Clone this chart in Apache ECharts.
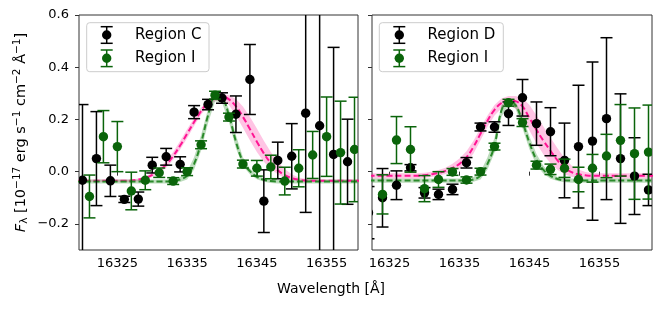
<!DOCTYPE html>
<html>
<head>
<meta charset="utf-8">
<script src="https://cdn.jsdelivr.net/npm/echarts@6/dist/echarts.min.js"></script>
<style>html,body{margin:0;padding:0;background:#fff}#c{width:662px;height:312px}</style>
</head>
<body>
<div id="c"></div>
<script>
// ---- data ----
const lamC = [16320,16322,16324,16326,16328,16330,16332,16334,16336,16338,16340,16342,16344,16346,16348,16350,16352,16354,16356,16358];
const fluxC = [-0.033,0.05,-0.035,-0.106,-0.105,0.025,0.057,0.028,0.228,0.257,0.282,0.22,0.353,-0.113,0.043,0.059,0.224,0.176,0.066,0.038];
const errC = [0.29,0.18,0.06,0.012,0.027,0.03,0.032,0.029,0.025,0.02,0.02,0.07,0.134,0.12,0.07,0.125,0.38,0.6,0.41,0.163];

const lamIL = [16321,16323,16325,16327,16329,16331,16333,16335,16337,16339,16341,16343,16345,16347,16349,16351,16353,16355,16357,16359];
const fluxIL = [-0.095,0.134,0.096,-0.074,-0.033,-0.004,-0.036,0.0,0.103,0.293,0.209,0.029,0.013,0.018,-0.036,0.013,0.064,0.134,0.073,0.085];
const errIL = [0.082,0.1,0.096,0.072,0.036,0.018,0.013,0.015,0.015,0.015,0.015,0.015,0.03,0.045,0.053,0.071,0.09,0.152,0.197,0.2];

const lamD = [16322,16324,16326,16328,16330,16332,16334,16336,16338,16340,16342,16344,16346,16348,16350,16352,16354,16356,16358,16360,16362];
const fluxD = [-0.157,-0.1,-0.052,0.015,-0.081,-0.087,-0.068,0.034,0.171,0.171,0.222,0.283,0.184,0.153,0.043,0.096,0.117,0.203,0.05,-0.017,-0.07];
const errD = [0.1,0.112,0.055,0.012,0.02,0.02,0.02,0.02,0.015,0.02,0.045,0.07,0.083,0.092,0.143,0.235,0.303,0.31,0.248,0.147,0.06];

const lamIR = [16324,16326,16328,16330,16332,16334,16336,16338,16340,16342,16344,16346,16348,16350,16352,16354,16356,16358,16360,16362];
const fluxIR = [-0.087,0.121,0.085,-0.065,-0.03,-0.001,-0.032,0.0,0.096,0.264,0.188,0.025,0.009,0.013,-0.03,0.013,0.06,0.12,0.069,0.075];
const errIR = [0.075,0.09,0.087,0.05,0.03,0.013,0.012,0.013,0.013,0.013,0.015,0.015,0.02,0.035,0.047,0.053,0.083,0.137,0.175,0.18];

// model curves, left panel grid
const gridL = [16319,16320,16321,16322,16323,16324,16325,16326,16327,16328,16329,16330,16331,16332,16333,16334,16335,16336,16337,16338,16339,16340,16341,16342,16343,16344,16345,16346,16347,16348,16349,16350,16351,16352,16353,16354,16355,16356,16357,16358,16359,16360];
const modelC = [-0.035,-0.035,-0.035,-0.035,-0.035,-0.035,-0.035,-0.035,-0.034,-0.03,-0.024,-0.012,0.005,0.027,0.06,0.1,0.145,0.19,0.232,0.265,0.283,0.287,0.277,0.25,0.21,0.163,0.115,0.07,0.033,0.005,-0.013,-0.025,-0.031,-0.034,-0.035,-0.035,-0.035,-0.035,-0.035,-0.035,-0.035,-0.035];
const modelCHi = [-0.03,-0.03,-0.03,-0.03,-0.03,-0.03,-0.03,-0.03,-0.03,-0.026,-0.018,-0.005,0.015,0.04,0.075,0.117,0.162,0.205,0.245,0.275,0.293,0.297,0.293,0.278,0.25,0.21,0.165,0.118,0.075,0.038,0.01,-0.01,-0.022,-0.028,-0.03,-0.03,-0.03,-0.03,-0.03,-0.03,-0.03,-0.03];
const modelCLo = [-0.04,-0.04,-0.04,-0.04,-0.04,-0.04,-0.04,-0.04,-0.04,-0.037,-0.031,-0.02,-0.005,0.015,0.046,0.085,0.128,0.175,0.218,0.252,0.27,0.272,0.255,0.215,0.168,0.12,0.075,0.038,0.01,-0.01,-0.024,-0.032,-0.036,-0.038,-0.04,-0.04,-0.04,-0.04,-0.04,-0.04,-0.04,-0.04];
const modelIL = [-0.038,-0.038,-0.038,-0.038,-0.038,-0.038,-0.038,-0.038,-0.038,-0.038,-0.038,-0.038,-0.038,-0.038,-0.036,-0.03,-0.015,0.03,0.11,0.215,0.285,0.28,0.215,0.115,0.038,0.002,-0.02,-0.031,-0.036,-0.038,-0.038,-0.038,-0.038,-0.038,-0.038,-0.038,-0.038,-0.038,-0.038,-0.038,-0.038,-0.038];
const modelILHi = [-0.03,-0.03,-0.03,-0.03,-0.03,-0.03,-0.03,-0.03,-0.03,-0.03,-0.03,-0.03,-0.03,-0.03,-0.028,-0.02,0.0,0.055,0.14,0.24,0.297,0.295,0.24,0.14,0.055,0.012,-0.012,-0.024,-0.029,-0.03,-0.03,-0.03,-0.03,-0.03,-0.03,-0.03,-0.03,-0.03,-0.03,-0.03,-0.03,-0.03];
const modelILLo = [-0.045,-0.045,-0.045,-0.045,-0.045,-0.045,-0.045,-0.045,-0.045,-0.045,-0.045,-0.045,-0.045,-0.045,-0.044,-0.04,-0.03,0.008,0.08,0.185,0.27,0.265,0.19,0.09,0.022,-0.01,-0.029,-0.039,-0.043,-0.045,-0.045,-0.045,-0.045,-0.045,-0.045,-0.045,-0.045,-0.045,-0.045,-0.045,-0.045,-0.045];

// model curves, right panel grid
const gridR = [16322,16323,16324,16325,16326,16327,16328,16329,16330,16331,16332,16333,16334,16335,16336,16337,16338,16339,16340,16341,16342,16343,16344,16345,16346,16347,16348,16349,16350,16351,16352,16353,16354,16355,16356,16357,16358,16359,16360,16361,16362,16363];
const modelD = [-0.016,-0.016,-0.016,-0.016,-0.016,-0.016,-0.016,-0.016,-0.014,-0.01,-0.005,0.003,0.014,0.03,0.055,0.095,0.145,0.195,0.237,0.263,0.273,0.27,0.25,0.205,0.16,0.118,0.08,0.043,0.015,-0.002,-0.01,-0.014,-0.016,-0.016,-0.016,-0.016,-0.016,-0.016,-0.016,-0.016,-0.016,-0.016];
const modelDHi = [-0.006,-0.006,-0.006,-0.006,-0.006,-0.006,-0.006,-0.006,-0.004,0.0,0.006,0.015,0.03,0.05,0.078,0.118,0.167,0.215,0.255,0.28,0.29,0.29,0.282,0.255,0.215,0.172,0.13,0.09,0.052,0.024,0.008,-0.001,-0.006,-0.006,-0.006,-0.006,-0.006,-0.006,-0.006,-0.006,-0.006,-0.006];
const modelDLo = [-0.026,-0.026,-0.026,-0.026,-0.026,-0.026,-0.026,-0.026,-0.024,-0.02,-0.016,-0.009,0.0,0.012,0.034,0.07,0.12,0.172,0.215,0.243,0.253,0.243,0.212,0.158,0.108,0.066,0.032,0.007,-0.01,-0.019,-0.024,-0.026,-0.026,-0.026,-0.026,-0.026,-0.026,-0.026,-0.026,-0.026,-0.026,-0.026];
const modelIR = [-0.034,-0.034,-0.034,-0.034,-0.034,-0.034,-0.034,-0.034,-0.034,-0.034,-0.034,-0.034,-0.034,-0.034,-0.033,-0.03,-0.015,0.03,0.1,0.235,0.268,0.255,0.19,0.11,0.045,0.007,-0.016,-0.028,-0.033,-0.034,-0.034,-0.034,-0.034,-0.034,-0.034,-0.034,-0.034,-0.034,-0.034,-0.034,-0.034,-0.034];
const modelIRHi = [-0.026,-0.026,-0.026,-0.026,-0.026,-0.026,-0.026,-0.026,-0.026,-0.026,-0.026,-0.026,-0.026,-0.026,-0.025,-0.02,0.0,0.055,0.13,0.255,0.278,0.268,0.215,0.135,0.068,0.022,-0.006,-0.02,-0.025,-0.026,-0.026,-0.026,-0.026,-0.026,-0.026,-0.026,-0.026,-0.026,-0.026,-0.026,-0.026,-0.026];
const modelIRLo = [-0.042,-0.042,-0.042,-0.042,-0.042,-0.042,-0.042,-0.042,-0.042,-0.042,-0.042,-0.042,-0.042,-0.042,-0.041,-0.039,-0.03,0.008,0.072,0.21,0.255,0.242,0.165,0.085,0.025,-0.008,-0.027,-0.036,-0.041,-0.042,-0.042,-0.042,-0.042,-0.042,-0.042,-0.042,-0.042,-0.042,-0.042,-0.042,-0.042,-0.042];

const xTicks = [16325,16335,16345,16355];
const yTicks = [-0.2,0.0,0.2,0.4,0.6];
const legendLeftNames = ['Region C', 'Region I'];
const legendRightNames = ['Region D', 'Region I'];

// ---- styling ----
const BLACK = '#000000';
const GREEN = '#0a640a';
const PINK = '#ff1493';
const PINK_BAND = 'rgba(255,20,147,0.25)';
const GREEN_LINE = '#2a8a2a';
const GREEN_BAND = 'rgba(34,139,34,0.30)';
const FONT = 'DejaVu Sans';

function zip2(a, b) { return a.map((v, i) => [v, b[i]]); }
function zip3(a, b, c) { return a.map((v, i) => [v, b[i], c[i]]); }

function errRender(color) {
  return function (params, api) {
    const x = api.value(0), y = api.value(1), e = api.value(2);
    const c = api.coord([x, y]);
    const t = api.coord([x, y + e]);
    const b = api.coord([x, y - e]);
    const w = 6;
    const st = { stroke: color, lineWidth: 1.5 };
    return {
      type: 'group',
      children: [
        { type: 'line', shape: { x1: c[0], y1: t[1], x2: c[0], y2: b[1] }, style: st },
        { type: 'line', shape: { x1: c[0] - w, y1: t[1], x2: c[0] + w, y2: t[1] }, style: st },
        { type: 'line', shape: { x1: c[0] - w, y1: b[1], x2: c[0] + w, y2: b[1] }, style: st },
        { type: 'circle', shape: { cx: c[0], cy: c[1], r: 4.7 }, style: { fill: color } }
      ]
    };
  };
}

function bandSeries(idx, lam, hi, lo, color) {
  return {
    type: 'custom', xAxisIndex: idx, yAxisIndex: idx, clip: true, silent: true, z: 1,
    data: [[lam[0], lo[0]]],
    encode: { x: 0, y: 1 },
    renderItem: function (params, api) {
      const pts = [];
      for (let i = 0; i < lam.length; i++) pts.push(api.coord([lam[i], hi[i]]));
      for (let i = lam.length - 1; i >= 0; i--) pts.push(api.coord([lam[i], lo[i]]));
      return { type: 'polygon', shape: { points: pts }, style: { fill: color } };
    }
  };
}

function lineSeries(idx, lam, vals, color) {
  return {
    type: 'line', xAxisIndex: idx, yAxisIndex: idx, data: zip2(lam, vals),
    showSymbol: false, smooth: 0.4, silent: true, z: 2, clip: true,
    lineStyle: { color: color, width: 2, type: [6, 3] }
  };
}

function errSeries(idx, name, lam, f, e, color, z) {
  return {
    type: 'custom', name: name, xAxisIndex: idx, yAxisIndex: idx, clip: true, z: z,
    itemStyle: { color: color },
    data: zip3(lam, f, e), encode: { x: 0, y: 1 },
    renderItem: errRender(color)
  };
}

function fmtY(v) {
  const s = Math.abs(v).toFixed(1);
  return v < -1e-9 ? '\u2212' + s : s;
}

function xAxis(idx, min, max) {
  return {
    type: 'value', gridIndex: idx, min: min, max: max,
    axisLine: { show: false },
    splitLine: { show: false },
    axisTick: { show: true, length: 4, lineStyle: { color: '#333', width: 1 }, customValues: xTicks },
    axisLabel: { show: true, customValues: xTicks, color: '#000', fontFamily: FONT, fontSize: 13, margin: 7,
      formatter: v => String(Math.round(v)) }
  };
}
function yAxis(idx, showLabels) {
  const ax = {
    type: 'value', gridIndex: idx, min: -0.3, max: 0.6,
    axisLine: { show: false },
    splitLine: { show: false },
    axisTick: { show: true, length: 4, lineStyle: { color: '#333', width: 1 }, customValues: yTicks },
    axisLabel: { show: showLabels, customValues: yTicks, color: '#000', fontFamily: FONT, fontSize: 13, margin: 10,
      formatter: fmtY }
  };
  if (showLabels) {
    ax.name = '{i|F}{sub|\u03bb} [10{sup|\u221217} erg s{sup|\u22121} cm{sup|\u22122} \u00c5{sup|\u22121}]';
    ax.nameLocation = 'middle';
    ax.nameGap = 49;
    ax.nameRotate = 90;
    ax.nameTextStyle = {
      color: '#000', fontFamily: FONT, fontSize: 14.5,
      rich: {
        i: { fontFamily: FONT, fontSize: 14.5, fontStyle: 'italic', color: '#000' },
        sub: { fontFamily: FONT, fontSize: 10.5, color: '#000', padding: [7, 0, 0, 0] },
        sup: { fontFamily: FONT, fontSize: 10.5, color: '#000', padding: [0, 0, 7, 0] }
      }
    };
  }
  return ax;
}

// legend drawn with graphic elements (box, errorbar icon, text)
function legendBox(x, y, w, h, names, colors) {
  const children = [
    { type: 'rect', shape: { x: x, y: y, width: w, height: h, r: 3 },
      style: { fill: 'rgba(255,255,255,0.8)', stroke: '#cccccc', lineWidth: 1 } }
  ];
  const rows = [y + 12.3, y + 35.6];
  names.forEach((n, i) => {
    const cx = x + 20, cy = rows[i], col = colors[i];
    const st = { stroke: col, lineWidth: 1.5 };
    children.push(
      { type: 'line', shape: { x1: cx, y1: cy - 8.3, x2: cx, y2: cy + 8.3 }, style: st },
      { type: 'line', shape: { x1: cx - 6, y1: cy - 8.3, x2: cx + 6, y2: cy - 8.3 }, style: st },
      { type: 'line', shape: { x1: cx - 6, y1: cy + 8.3, x2: cx + 6, y2: cy + 8.3 }, style: st },
      { type: 'circle', shape: { cx: cx, cy: cy, r: 4.7 }, style: { fill: col } },
      { type: 'text', x: x + 48.3, y: cy, style: { text: n, fill: '#000', font: '15px "DejaVu Sans"', verticalAlign: 'middle', align: 'left' } }
    );
  });
  return { type: 'group', z: 100, children: children };
}

const chart = echarts.init(document.getElementById('c'), null, { renderer: 'canvas' });
chart.setOption({
  animation: false,
  backgroundColor: '#fff',
  grid: [
    { left: 79, top: 15, width: 279, height: 235, show: true, borderColor: '#333', borderWidth: 1, backgroundColor: 'transparent' },
    { left: 372, top: 15, width: 280, height: 235, show: true, borderColor: '#333', borderWidth: 1, backgroundColor: 'transparent' }
  ],
  xAxis: [xAxis(0, 16319.5, 16359.5), xAxis(1, 16322.5, 16362.5)],
  yAxis: [yAxis(0, true), yAxis(1, false)],
  graphic: [
    { type: 'text', left: 'center', top: 282, style: { text: 'Wavelength [\u00c5]', fill: '#000', font: '14px "DejaVu Sans"' } },
    legendBox(86.7, 22.7, 122.3, 49, legendLeftNames, [BLACK, GREEN]),
    legendBox(379.3, 22.7, 124, 49, legendRightNames, [BLACK, GREEN])
  ],
  series: [
    bandSeries(0, gridL, modelCHi, modelCLo, PINK_BAND),
    bandSeries(0, gridL, modelILHi, modelILLo, GREEN_BAND),
    lineSeries(0, gridL, modelC, PINK),
    lineSeries(0, gridL, modelIL, GREEN_LINE),
    errSeries(0, 'Region C', lamC, fluxC, errC, BLACK, 3),
    errSeries(0, 'Region I', lamIL, fluxIL, errIL, GREEN, 4),

    bandSeries(1, gridR, modelDHi, modelDLo, PINK_BAND),
    bandSeries(1, gridR, modelIRHi, modelIRLo, GREEN_BAND),
    lineSeries(1, gridR, modelD, PINK),
    lineSeries(1, gridR, modelIR, GREEN_LINE),
    errSeries(1, 'Region D', lamD, fluxD, errD, BLACK, 3),
    errSeries(1, 'Region I', lamIR, fluxIR, errIR, GREEN, 4)
  ]
});
</script>
</body>
</html>
